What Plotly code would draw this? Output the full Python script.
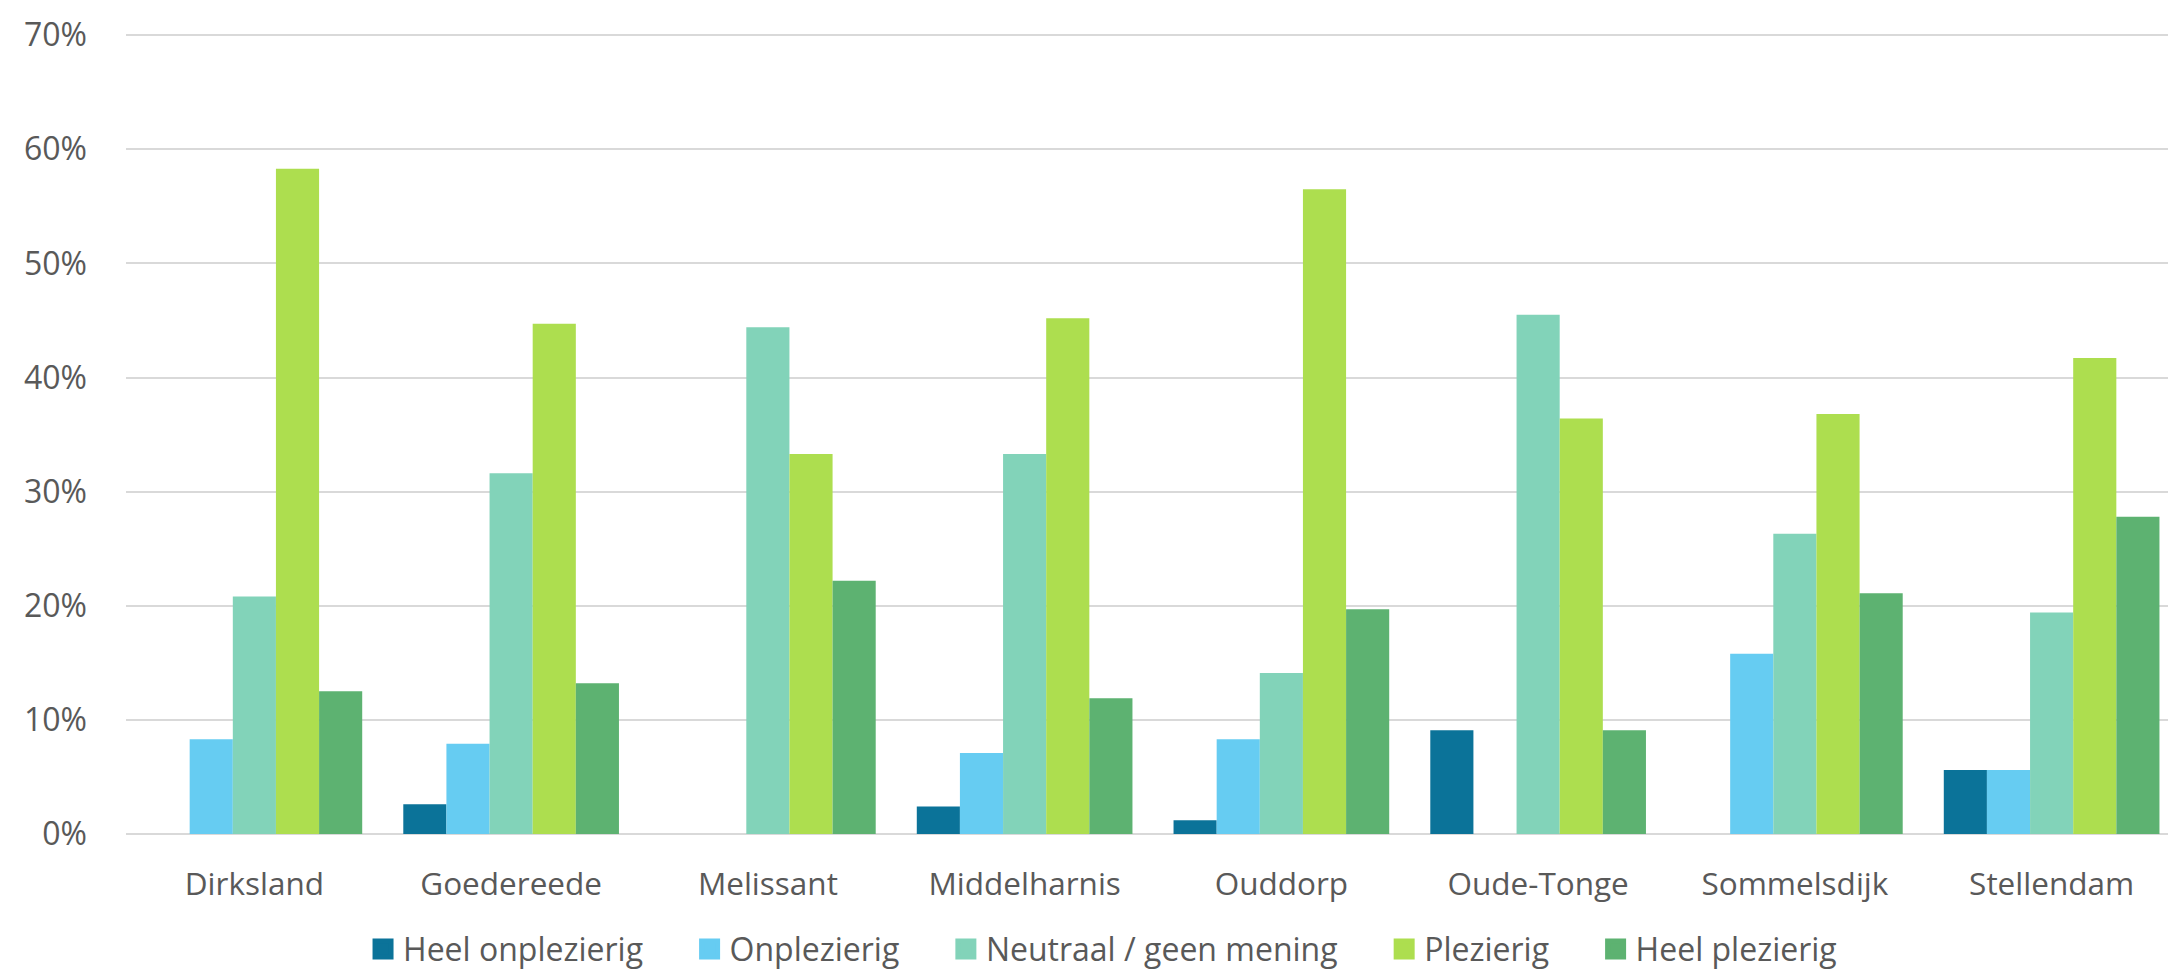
import plotly.graph_objects as go

categories = ["Dirksland", "Goedereede", "Melissant", "Middelharnis", "Ouddorp",
              "Oude-Tonge", "Sommelsdijk", "Stellendam"]

heel_onplezierig = [0.0, 2.6, 0.0, 2.4, 1.2, 9.1, 0.0, 5.6]
onplezierig = [8.3, 7.9, 0.0, 7.1, 8.3, 0.0, 15.8, 5.6]
neutraal = [20.8, 31.6, 44.4, 33.3, 14.1, 45.5, 26.3, 19.4]
plezierig = [58.3, 44.7, 33.3, 45.2, 56.5, 36.4, 36.8, 41.7]
heel_plezierig = [12.5, 13.2, 22.2, 11.9, 19.7, 9.1, 21.1, 27.8]

series_names = ["Heel onplezierig", "Onplezierig", "Neutraal / geen mening",
                "Plezierig", "Heel plezierig"]
series_values = [heel_onplezierig, onplezierig, neutraal, plezierig, heel_plezierig]
colors = ["#0B7399", "#66CCF2", "#82D3B9", "#ADDE4F", "#5DB271"]

y_ticks = [0, 10, 20, 30, 40, 50, 60, 70]
y_tick_labels = ["0%", "10%", "20%", "30%", "40%", "50%", "60%", "70%"]

FONT = "Open Sans"
GRAY = "#595959"
PAD = "\u00a0" * 5

fig = go.Figure()
for i, (name, vals, col) in enumerate(zip(series_names, series_values, colors)):
    fig.add_trace(go.Bar(
        x=categories, y=vals, name=name, legendgroup=name, showlegend=False,
        marker=dict(color=col, line=dict(width=0)),
        hovertemplate="%{x}<br>" + name + ": %{y:.1f}%<extra></extra>",
    ))
for i, (name, col) in enumerate(zip(series_names, colors)):
    label = name + (PAD if i < len(series_names) - 1 else "")
    fig.add_trace(go.Scatter(
        x=[categories[0]], y=[None], mode="markers", name=label, legendgroup=name,
        marker=dict(symbol="square", size=16, color=col, line=dict(width=5, color=col)),
        hoverinfo="skip", showlegend=True,
    ))

fig.update_layout(
    width=2176, height=973,
    margin=dict(l=118, r=4, t=24, b=135),
    barmode="group", bargap=0.16, bargroupgap=0,
    paper_bgcolor="white", plot_bgcolor="white",
    font=dict(family=FONT, color=GRAY, size=32),
    showlegend=True,
    legend=dict(
        orientation="h", x=0.1154, xanchor="left", y=-0.1439, yanchor="middle",
        font=dict(family=FONT, size=32, color=GRAY),
        itemwidth=30, traceorder="normal", itemsizing="trace",
        bgcolor="rgba(0,0,0,0)",
    ),
    xaxis=dict(
        tickfont=dict(family=FONT, size=31.5, color=GRAY),
        showgrid=False, showline=False, ticks="", ticklabelstandoff=28,
    ),
    yaxis=dict(
        range=[0, 70.1], tickvals=y_ticks, ticktext=y_tick_labels,
        tickfont=dict(family=FONT, size=32, color=GRAY),
        showgrid=True, gridcolor="#D9D9D9", gridwidth=2,
        zeroline=True, zerolinecolor="#D9D9D9", zerolinewidth=2,
        showline=False, ticks="", ticklabelstandoff=38,
    ),
)

fig.write_html("out.html")
